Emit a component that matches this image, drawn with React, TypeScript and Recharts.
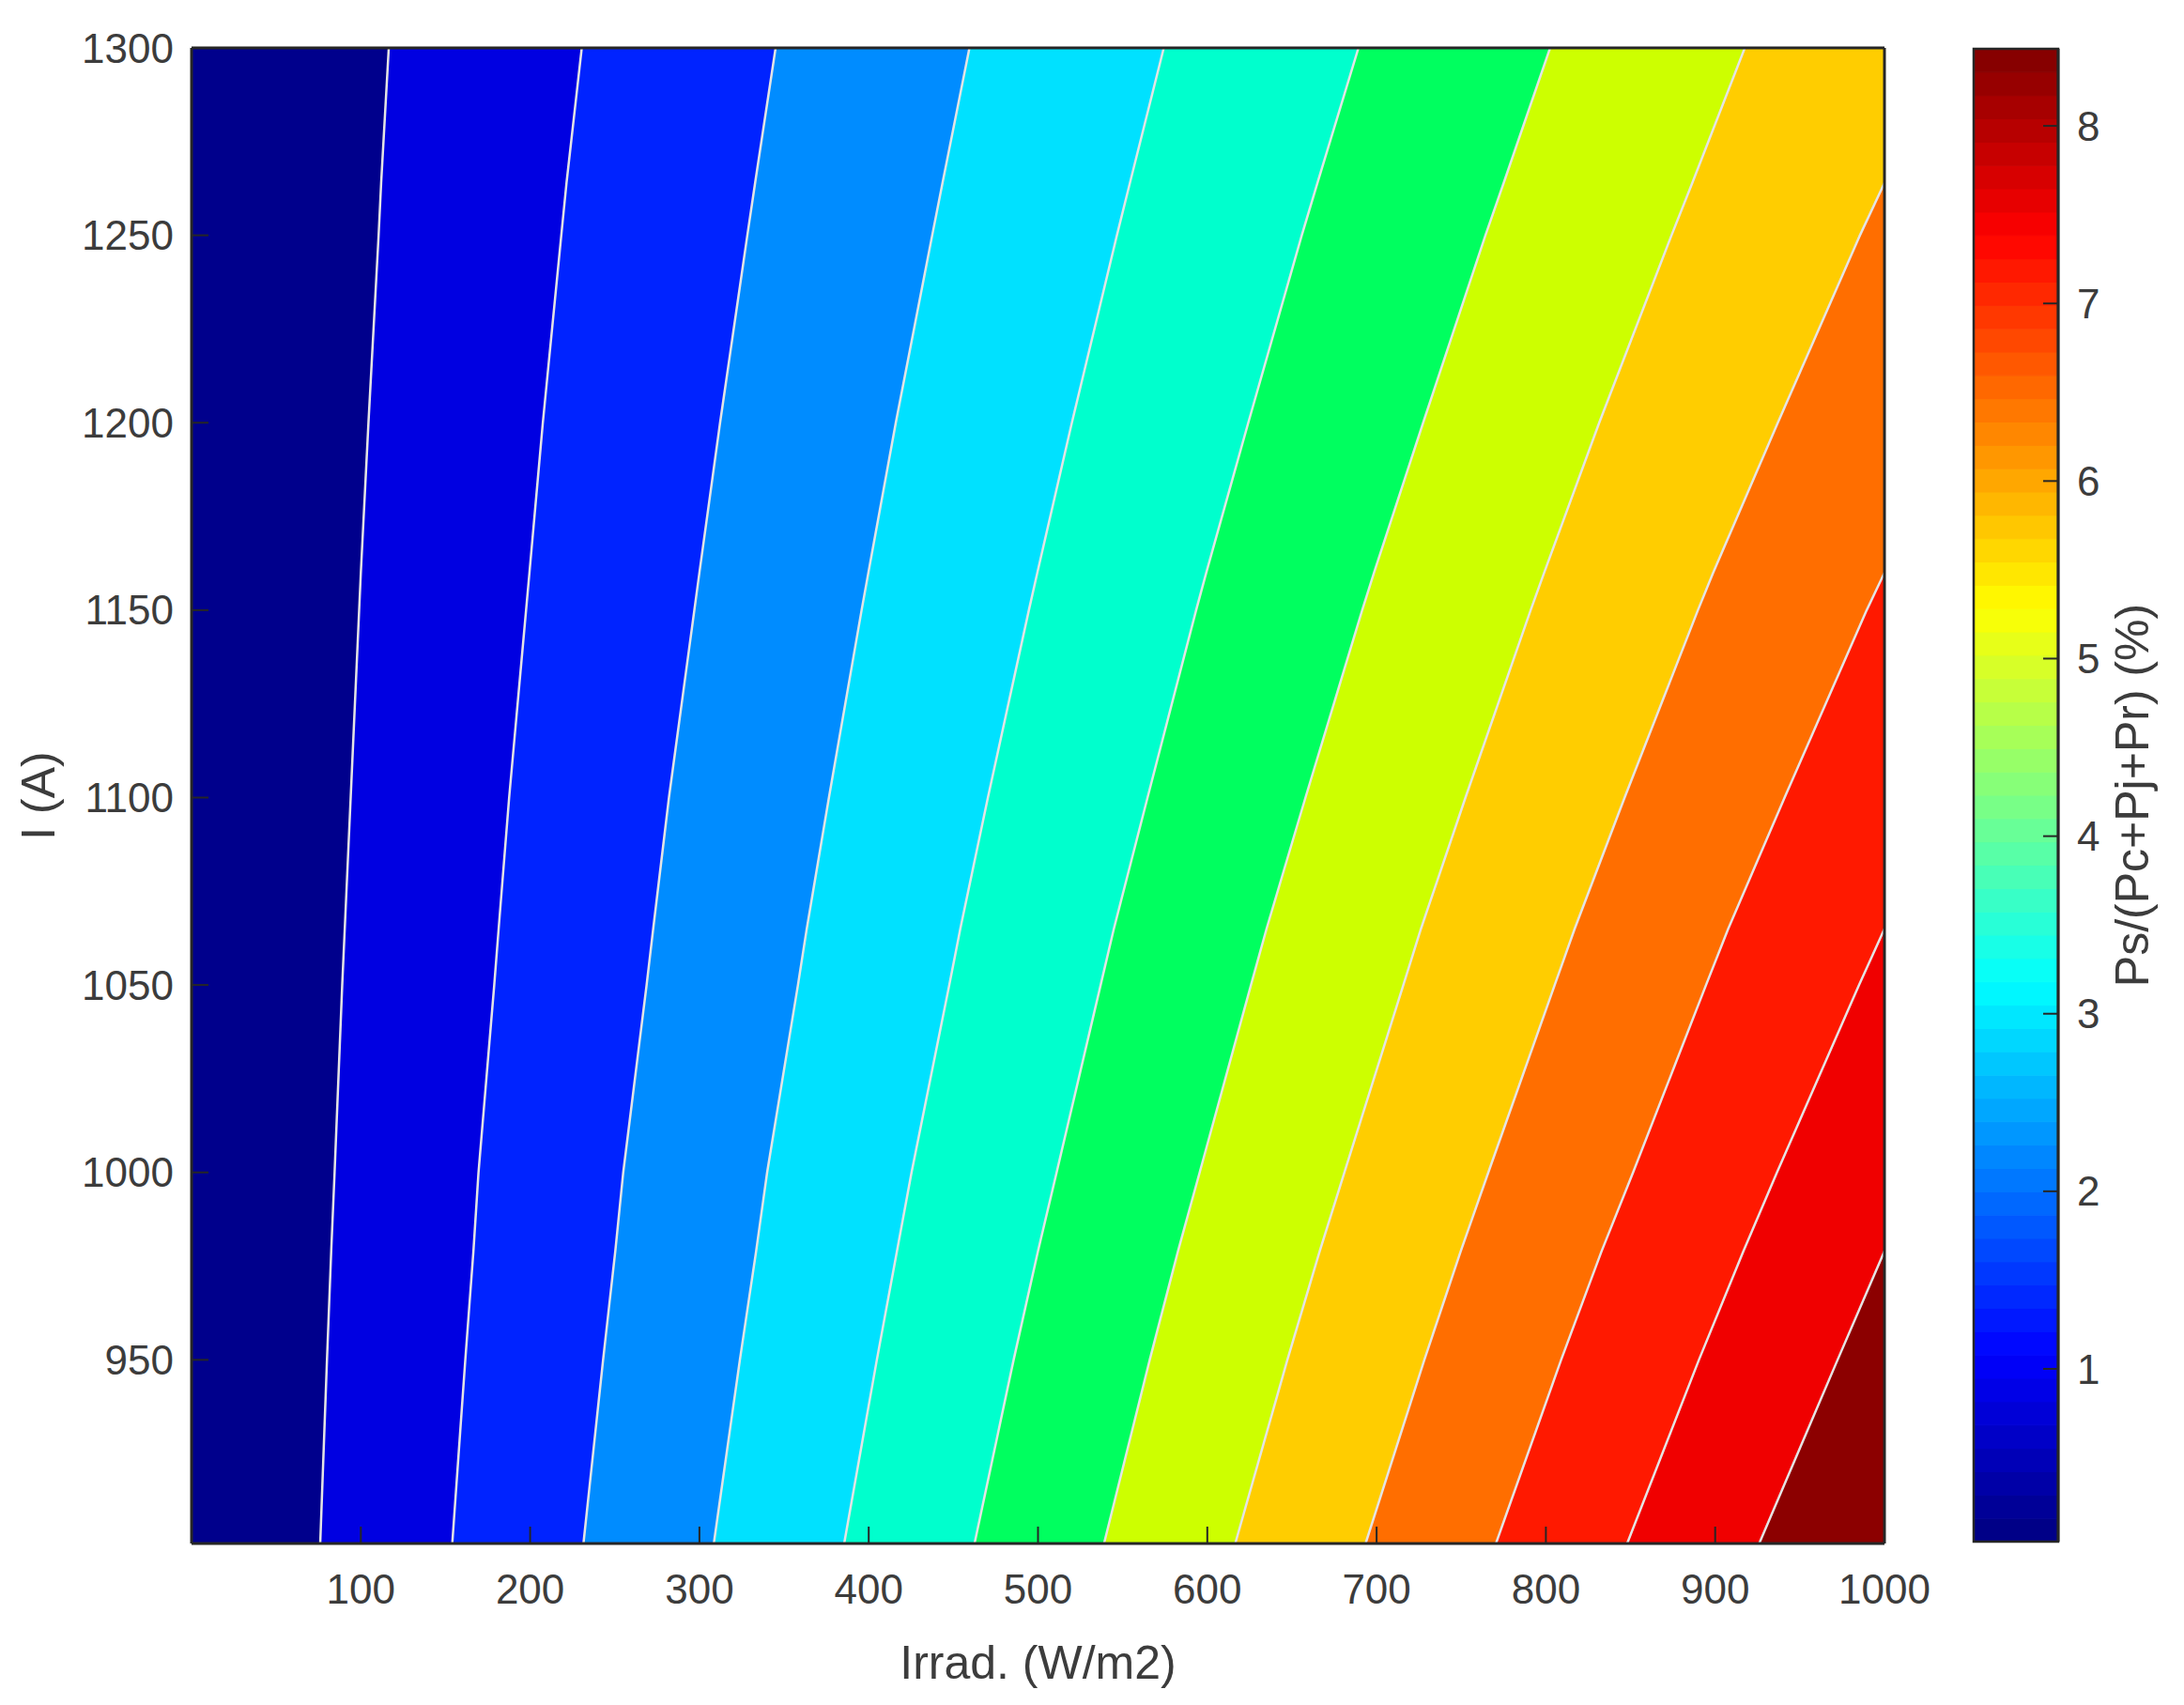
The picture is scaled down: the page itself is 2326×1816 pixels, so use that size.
import React from 'react'
import { ComposedChart, Area, Line, XAxis, YAxis, ReferenceArea, CartesianGrid, Label } from 'recharts'

const currentRows = [901, 950, 979, 1000, 1050, 1065, 1100, 1150, 1160, 1200, 1250, 1264, 1300]

// irradiance (W/m2) of each contour line at those currents, 1000 = right edge
const level1 = [76, 80, 82.5, 84.5, 89, 90.5, 94, 99, 100, 104.5, 110.5, 112, 116.5]
const level2 = [154, 161.7, 166.5, 169.5, 178.8, 181.4, 187.6, 197.6, 199.6, 207.5, 218.4, 221.5, 230.5]
const level3 = [231.5, 243.1, 250.3, 255, 268.8, 272.7, 282, 297, 300, 312.2, 328.3, 332.9, 345]
const level4 = [308.5, 323.9, 333.5, 340, 358.2, 363.4, 376.5, 395.8, 399.8, 416, 437.5, 443.6, 459.5]
const level5 = [385.5, 404.8, 416.7, 425.3, 447.6, 454.1, 470.4, 494.6, 499.6, 520, 546.6, 554.3, 574.3]
const level6 = [462.5, 485.6, 500, 511, 537, 544.8, 564.7, 593.4, 599.4, 624.2, 655.8, 665.1, 689.3]
const level7 = [539, 566, 582.7, 595.5, 625.8, 635, 658, 691.5, 698.5, 727.5, 764.3, 775.1, 802.5]
const level8 = [616.5, 647.3, 666.4, 681, 715.8, 726.2, 752.5, 791, 799, 831.5, 874.2, 886.5, 917.5]
const level9 = [693.5, 728.2, 749.7, 766, 805.2, 817, 846.5, 889.8, 898.8, 937, 985.5, 1000, 1000]
const level10 = [770.5, 809, 832.9, 851.5, 894.6, 907.7, 941, 989.5, 1000, 1000, 1000, 1000, 1000]
const level11 = [848, 890.4, 916.7, 936.5, 985, 1000, 1000, 1000, 1000, 1000, 1000, 1000, 1000]
const level12 = [926, 972.3, 1000, 1000, 1000, 1000, 1000, 1000, 1000, 1000, 1000, 1000, 1000]

const levels = [level1, level2, level3, level4, level5, level6, level7, level8, level9, level10, level11, level12]

// fill of each band, left to right
const bandColors = [
  '#00008c', '#0000e1', '#0023ff', '#008cff', '#00e1ff', '#00ffcd',
  '#00ff5f', '#cdff00', '#ffcd00', '#ff6e00', '#ff1900', '#f00000', '#8c0000',
]

const xTicks = [100, 200, 300, 400, 500, 600, 700, 800, 900, 1000]
const yTicks = [950, 1000, 1050, 1100, 1150, 1200, 1250, 1300]
const colorTicks = [1, 2, 3, 4, 5, 6, 7, 8]
const colorMin = 0.027
const colorMax = 8.434

const FONT = '"Liberation Sans", Arial, Helvetica, sans-serif'
const TXT = '#3c3c3c'
const AX = '#262626'
const FS = 44
const LFS = 50

const table = currentRows.map((I, r) => {
  const row: Record<string, number | null> = { I }
  levels.forEach((lv, k) => {
    row['c' + (k + 1)] = lv[r]
    const prev = r > 0 ? lv[r - 1] : 0
    // contour line stops where it leaves the plot through the right edge
    row['l' + (k + 1)] = lv[r] < 1000 || prev < 1000 ? lv[r] : null
  })
  return row
})

// jet colormap steps for the colour bar
const jet = (t: number) => {
  const c = (v: number) => Math.round(255 * Math.max(0, Math.min(1, 1.5 - Math.abs(v))))
  return `rgb(${c(4 * t - 3)},${c(4 * t - 2)},${c(4 * t - 1)})`
}
const steps = 64
const colorSteps = Array.from({ length: steps }, (_, i) => ({
  y1: colorMin + ((colorMax - colorMin) * i) / steps,
  y2: colorMin + ((colorMax - colorMin) * (i + 1)) / steps,
  fill: jet((i + 0.5) / steps),
}))

const tickStyle = { fill: TXT, fontSize: FS, fontFamily: FONT }
const labelStyle = { fill: TXT, fontSize: LFS, fontFamily: FONT, textAnchor: 'middle' as const }
const lineStyle = { stroke: AX, strokeWidth: 2 }
const axisStyle = { stroke: AX, strokeWidth: 3 }

export default function App() {
  const drawOrder = [...levels.keys()].reverse()
  return (
    <div style={{ position: 'absolute', left: 0, top: 0, width: 2326, height: 1816, background: '#fff', fontFamily: FONT }}>
      <div style={{ position: 'absolute', left: 0, top: 0 }}>
        <ComposedChart width={2070} height={1816} data={table} layout="vertical" margin={{ top: 50, right: 0, bottom: 0, left: 0 }}>
          <CartesianGrid horizontal={false} vertical={false} fill={bandColors[12]} fillOpacity={1} />
          {drawOrder.map((k) => (
            <Area
              key={'a' + k}
              dataKey={'c' + (k + 1)}
              type="linear"
              fill={bandColors[k]}
              fillOpacity={1}
              stroke="none"
              isAnimationActive={false}
            />
          ))}
          {levels.map((_, k) => (
            <Line
              key={'l' + k}
              dataKey={'l' + (k + 1)}
              type="linear"
              stroke="#e4e4e4"
              strokeWidth={2.5}
              dot={false}
              activeDot={false}
              isAnimationActive={false}
            />
          ))}
          <XAxis
            type="number"
            domain={[0, 1000]}
            ticks={xTicks}
            interval={0}
            allowDataOverflow
            height={172}
            tickSize={-18}
            tickMargin={51}
            tick={tickStyle}
            tickLine={lineStyle}
            axisLine={axisStyle}
          >
            <Label value="Irrad. (W/m2)" position="insideBottom" offset={28} style={labelStyle} />
          </XAxis>
          <XAxis
            xAxisId="top"
            orientation="top"
            type="number"
            domain={[0, 1000]}
            ticks={xTicks}
            interval={0}
            allowDataOverflow
            height={1}
            tickSize={-18}
            tick={false}
            tickLine={lineStyle}
            axisLine={axisStyle}
          />
          <YAxis
            type="number"
            dataKey="I"
            domain={[901, 1300]}
            ticks={yTicks}
            interval={0}
            reversed
            allowDataOverflow
            width={204}
            tickSize={-18}
            tickMargin={37}
            tick={tickStyle}
            tickLine={lineStyle}
            axisLine={axisStyle}
          >
            <Label value="I (A)" angle={-90} position="insideLeft" offset={40} style={labelStyle} />
          </YAxis>
          <YAxis
            yAxisId="right"
            orientation="right"
            type="number"
            dataKey="I"
            domain={[901, 1300]}
            ticks={yTicks}
            interval={0}
            reversed
            allowDataOverflow
            width={63}
            tickSize={-17}
            tick={false}
            tickLine={lineStyle}
            axisLine={axisStyle}
          />
        </ComposedChart>
      </div>
      <div style={{ position: 'absolute', left: 2060, top: 0 }}>
        <ComposedChart width={266} height={1816} data={[{ x: 0 }, { x: 1 }]} margin={{ top: 52, right: 0, bottom: 174, left: 42 }}>
          {colorSteps.map((s, i) => (
            <ReferenceArea key={i} x1={0} x2={1} y1={s.y1} y2={s.y2} fill={s.fill} fillOpacity={1} stroke={s.fill} strokeWidth={1} />
          ))}
          <ReferenceArea x1={0} x2={1} y1={colorMin} y2={colorMax} fill="none" stroke={AX} strokeWidth={2.5} />
          <XAxis type="number" dataKey="x" domain={[0, 1]} hide />
          <YAxis
            orientation="right"
            type="number"
            domain={[colorMin, colorMax]}
            ticks={colorTicks}
            interval={0}
            allowDataOverflow
            width={134}
            tickSize={-16}
            tickMargin={36}
            tick={tickStyle}
            tickLine={lineStyle}
            axisLine={axisStyle}
          >
            <Label value="Ps/(Pc+Pj+Pr) (%)" angle={-90} position="insideLeft" offset={78} style={labelStyle} />
          </YAxis>
        </ComposedChart>
      </div>
    </div>
  )
}
